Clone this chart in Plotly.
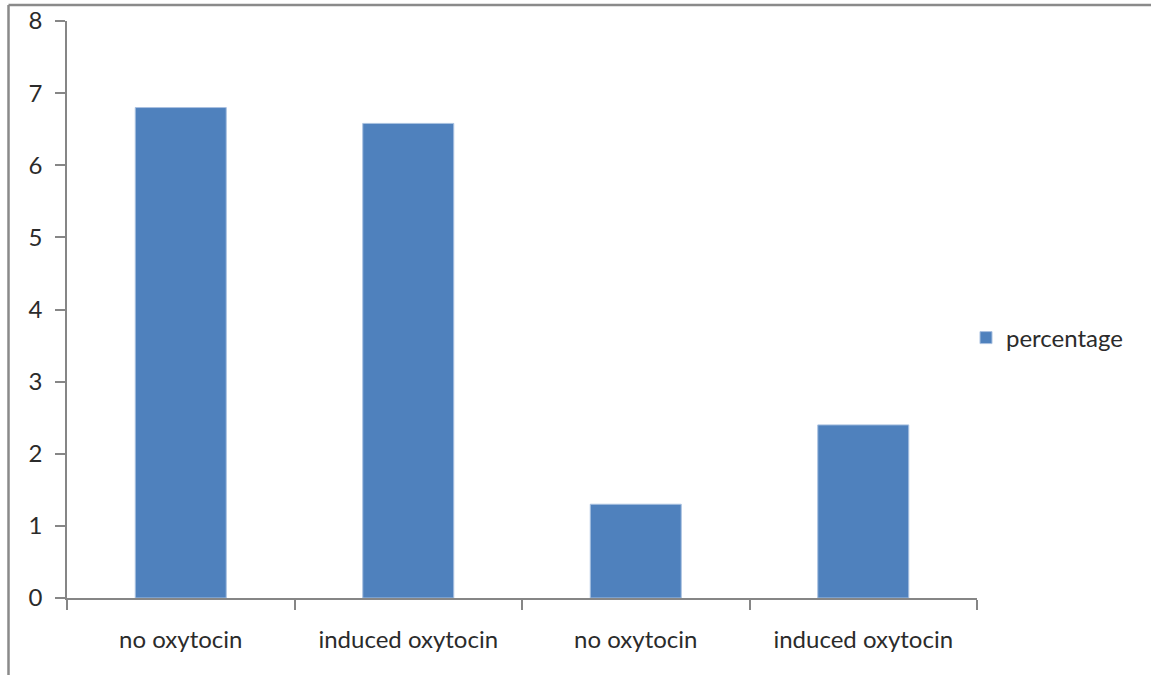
import plotly.graph_objects as go

# Chart data
categories = ["no oxytocin", "induced oxytocin", "no oxytocin", "induced oxytocin"]
percentage = [6.8, 6.58, 1.3, 2.4]
y_ticks = [0, 1, 2, 3, 4, 5, 6, 7, 8]

W, H = 1151, 675
ML, MR, MT, MB = 67, 174, 21, 77
PW, PH = W - ML - MR, H - MT - MB

BAR = "#4F81BD"
AXIS = "#868686"
TEXT = "#2b2b2b"
FONT = "Lato, 'Open Sans', sans-serif"

positions = list(range(len(categories)))

fig = go.Figure()
fig.add_trace(go.Bar(
    x=positions,
    y=percentage,
    name="percentage",
    marker=dict(color=BAR, line=dict(color="#A9C1E0", width=1)),
    width=0.4,
    hoverinfo="x+y",
))


def px_x(px):
    return (px - ML) / PW


def px_y(py):
    return (H - MB - py) / PH


# Outer frame (left and top edges)
frame = dict(type="line", xref="paper", yref="paper",
             line=dict(color="#8a8a8a", width=2.5), layer="above")
fig.add_shape(**frame, x0=px_x(8.5), x1=px_x(W + 10), y0=px_y(5), y1=px_y(5))
fig.add_shape(**frame, x0=px_x(8.5), x1=px_x(8.5), y0=px_y(5), y1=px_y(H + 10))

fig.update_layout(
    width=W, height=H,
    margin=dict(l=ML, r=MR, t=MT, b=MB, pad=0, autoexpand=False),
    paper_bgcolor="white", plot_bgcolor="white",
    font=dict(family=FONT, size=24, color=TEXT),
    showlegend=True,
    legend=dict(
        x=px_x(966), y=px_y(338), xanchor="left", yanchor="middle",
        font=dict(family=FONT, size=24, color=TEXT),
        bgcolor="rgba(0,0,0,0)", borderwidth=0,
    ),
    xaxis=dict(
        range=[-0.5, len(categories) - 0.5],
        tickmode="array", tickvals=positions, ticktext=categories,
        ticks="", ticklabelstandoff=19, automargin=False,
        showline=True, linecolor=AXIS, linewidth=1.5,
        showgrid=False, zeroline=False,
        minor=dict(
            tickmode="array",
            tickvals=[p - 0.5 for p in positions] + [positions[-1] + 0.5],
            ticks="outside", ticklen=10, tickcolor=AXIS, tickwidth=1.5,
            showgrid=False,
        ),
        fixedrange=True,
    ),
    yaxis=dict(
        range=[0, 8], tickmode="array", tickvals=y_ticks,
        ticks="outside", ticklen=10, tickcolor=AXIS, tickwidth=1.5,
        ticklabelstandoff=8, automargin=False,
        showline=True, linecolor=AXIS, linewidth=1.5,
        showgrid=False, zeroline=False,
        fixedrange=True,
    ),
    bargap=0.6,
)

fig.write_html("out.html", include_plotlyjs=True)
